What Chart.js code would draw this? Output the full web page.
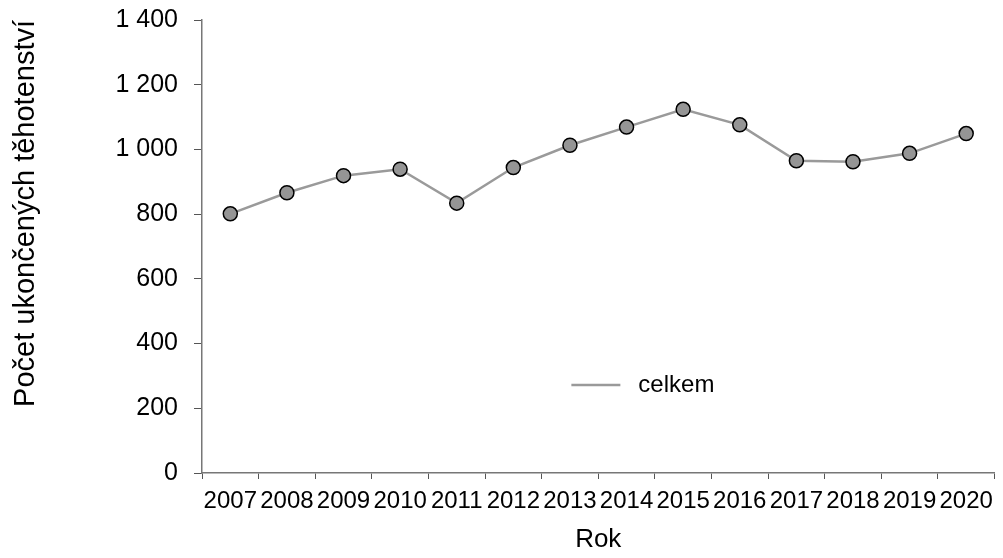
<!DOCTYPE html>
<html>
<head>
<meta charset="utf-8">
<script src="https://cdn.jsdelivr.net/npm/chart.js@4.4.1/dist/chart.umd.min.js"></script>
<style>
html,body{margin:0;padding:0;background:#fff;}
#wrap{width:1003px;height:558px;}
</style>
</head>
<body>
<div id="wrap"><canvas id="c" width="1003" height="558"></canvas></div>
<script>
const years = ['2007','2008','2009','2010','2011','2012','2013','2014','2015','2016','2017','2018','2019','2020'];
const celkem = [801, 866, 919, 939, 834, 944, 1013, 1069, 1124, 1076, 965, 962, 988, 1049];
const seriesLabel = 'celkem';
const yTitle = 'Počet ukončených těhotenství';
const xTitle = 'Rok';

const FONT = '"Liberation Sans", Arial, sans-serif';

const legendPlugin = {
  id: 'innerLegend',
  afterDatasetsDraw(chart) {
    const {ctx, chartArea} = chart;
    const ds = chart.data.datasets[0];
    const x0 = chartArea.left + (573 - 202) / 796 * (chartArea.right - chartArea.left);
    const y0 = chartArea.top + (385 - 20) / 453 * (chartArea.bottom - chartArea.top);
    ctx.save();
    ctx.strokeStyle = ds.borderColor;
    ctx.lineWidth = ds.borderWidth;
    ctx.beginPath();
    ctx.moveTo(x0, y0);
    ctx.lineTo(x0 + 49, y0);
    ctx.stroke();
    ctx.fillStyle = '#000';
    ctx.font = '24px ' + FONT;
    ctx.textBaseline = 'middle';
    ctx.textAlign = 'left';
    ctx.fillText(ds.label, x0 + 67, y0);
    ctx.restore();
  }
};

new Chart(document.getElementById('c'), {
  type: 'line',
  data: {
    labels: years,
    datasets: [{
      label: seriesLabel,
      data: celkem,
      borderColor: '#9a9a9a',
      borderWidth: 2.5,
      pointRadius: 7,
      pointHoverRadius: 7,
      pointBackgroundColor: '#959595',
      pointBorderColor: '#000',
      pointBorderWidth: 1.5,
      tension: 0,
      fill: false
    }]
  },
  options: {
    responsive: false,
    animation: false,
    devicePixelRatio: 1,
    layout: { padding: { top: 20, right: 5, bottom: 0, left: 0 } },
    plugins: { legend: { display: false }, tooltip: { enabled: false } },
    scales: {
      x: {
        type: 'category',
        offset: true,
        grid: { display: true, drawOnChartArea: false, offset: true, tickLength: 6, color: '#555', lineWidth: 1 },
        border: { display: true, color: '#777', width: 1.5 },
        ticks: { color: '#000', font: { family: FONT, size: 24 }, padding: 8, maxRotation: 0, autoSkip: false },
        title: { display: true, text: xTitle, color: '#000', font: { family: FONT, size: 26 }, padding: { top: 0, bottom: 3 } },
        afterFit(scale) { scale.height = 85; scale.paddingLeft = 0; scale.paddingRight = 0; }
      },
      y: {
        min: 0, max: 1400,
        grid: { display: true, drawOnChartArea: false, tickLength: 8, color: '#555', lineWidth: 1 },
        border: { display: true, color: '#777', width: 1.5 },
        ticks: {
          stepSize: 200, color: '#000', font: { family: FONT, size: 25 }, padding: 16,
          callback: v => String(v).replace(/\B(?=(\d{3})+(?!\d))/g, ' ')
        },
        title: { display: true, text: yTitle, align: 'end', color: '#000', font: { family: FONT, size: 29 }, padding: { top: 9, bottom: 0 } },
        afterFit(scale) { scale.width = 202; scale.paddingTop = 0; scale.paddingBottom = 0; }
      }
    }
  },
  plugins: [legendPlugin]
});
</script>
</body>
</html>
